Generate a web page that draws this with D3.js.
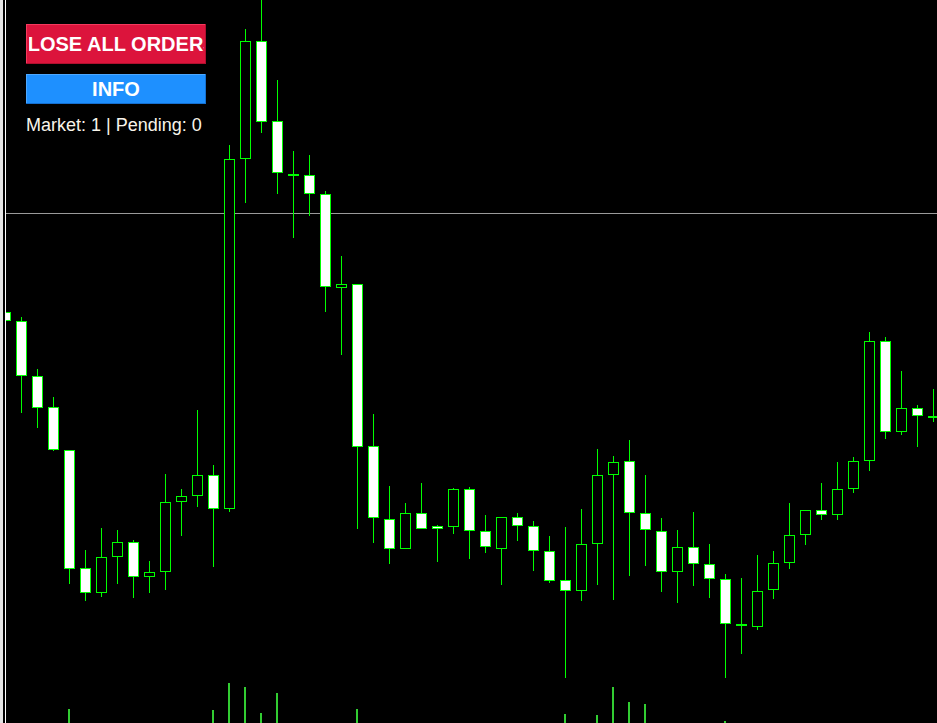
<!DOCTYPE html>
<html><head><meta charset="utf-8">
<script src="https://cdn.jsdelivr.net/npm/d3@7"></script>
<style>html,body{margin:0;padding:0;background:#000;overflow:hidden}svg{display:block}</style>
</head><body><svg id="chart" width="937" height="723"></svg>
<script>
// ---- data (bar index 0 is the oldest, partially hidden at the left edge) ----
const openP  = [1.08288,1.08279,1.08224,1.08193,1.08150,1.08032,1.08007,1.08043,1.08058,1.08023,
                1.08028,1.08098,1.08104,1.08125,1.08091,1.08441,1.08559,1.08479,1.08426,1.08425,
                1.08406,1.08312,1.08316,1.08154,1.08081,1.08051,1.08087,1.08074,1.08073,1.08111,
                1.08069,1.08051,1.08083,1.08074,1.08049,1.08020,1.08009,1.08056,1.08125,1.08139,
                1.08087,1.08069,1.08028,1.08053,1.08036,1.08021,1.07976,1.07973,1.08010,1.08037,
                1.08065,1.08090,1.08085,1.08111,1.08139,1.08259,1.08168,1.08192,1.08184];
const highP  = [1.08291,1.08283,1.08231,1.08203,1.08150,1.08050,1.08072,1.08070,1.08060,1.08039,
                1.08126,1.08111,1.08190,1.08135,1.08455,1.08571,1.08620,1.08520,1.08449,1.08445,
                1.08409,1.08344,1.08316,1.08186,1.08114,1.08097,1.08117,1.08075,1.08112,1.08113,
                1.08085,1.08083,1.08087,1.08079,1.08064,1.08073,1.08091,1.08151,1.08144,1.08160,
                1.08125,1.08082,1.08070,1.08088,1.08056,1.08026,1.08022,1.08045,1.08049,1.08097,
                1.08090,1.08117,1.08138,1.08143,1.08268,1.08263,1.08229,1.08195,1.08211];
const lowP   = [1.08275,1.08187,1.08172,1.08149,1.08016,1.07999,1.08003,1.08016,1.08002,1.08007,
                1.08010,1.08064,1.08093,1.08033,1.08088,1.08397,1.08467,1.08406,1.08362,1.08384,
                1.08288,1.08245,1.08071,1.08057,1.08036,1.08051,1.08071,1.08038,1.08066,1.08041,
                1.08047,1.08015,1.08059,1.08029,1.08017,1.07922,1.07999,1.08015,1.08000,1.08024,
                1.08034,1.08008,1.07997,1.08014,1.08002,1.07922,1.07946,1.07970,1.08001,1.08031,
                1.08055,1.08080,1.08080,1.08107,1.08129,1.08161,1.08165,1.08153,1.08178];
const closeP = [1.08279,1.08224,1.08192,1.08150,1.08031,1.08007,1.08043,1.08058,1.08023,1.08028,
                1.08098,1.08104,1.08125,1.08091,1.08441,1.08559,1.08478,1.08427,1.08426,1.08406,
                1.08313,1.08316,1.08153,1.08082,1.08051,1.08087,1.08071,1.08071,1.08111,1.08069,
                1.08053,1.08083,1.08074,1.08049,1.08019,1.08009,1.08056,1.08125,1.08138,1.08087,
                1.08070,1.08028,1.08053,1.08036,1.08021,1.07976,1.07974,1.08009,1.08037,1.08065,
                1.08090,1.08085,1.08111,1.08139,1.08259,1.08168,1.08192,1.08184,1.08184];
const volumes = [300,260,310,280,540,350,330,290,320,250,
                 360,220,340,530,800,760,500,700,380,300,
                 370,320,540,390,340,300,280,230,310,290,
                 260,330,240,300,320,490,370,480,760,610,
                 590,350,330,300,310,420,380,340,300,310,
                 260,240,300,330,390,380,330,250,200];
const hLevels = [1.08387];
const buttonLabels = ["CLOSE ALL ORDERS", "INFO"];
const statusText = "Market: 1 | Pending: 0";

// ---- scales ----
const W = 937, H = 723;
const n = openP.length;
const x = d3.scaleLinear().domain([0, n - 1]).range([5, 5 + 16 * (n - 1)]);
const y = d3.scaleLinear().domain([1.08600, 1.07877]).range([0, H]);
const yv = d3.scaleLinear().domain([0, 1000]).range([763, 663]);

const svg = d3.select("#chart");
svg.append("rect").attr("width", W).attr("height", H).attr("fill", "#000");

const defs = svg.append("defs");
defs.append("clipPath").attr("id", "plot").append("rect")
  .attr("x", 6).attr("y", 0).attr("width", W - 6).attr("height", H);
defs.append("clipPath").attr("id", "btn0").append("rect")
  .attr("x", 29).attr("y", 24).attr("width", 175).attr("height", 40);

const data = d3.range(n).map(i => ({i, o: openP[i], h: highP[i], l: lowP[i], c: closeP[i], v: volumes[i]}));

const plot = svg.append("g").attr("clip-path", "url(#plot)");

// volume bars (subwindow extends below the visible area)
plot.append("g").selectAll("rect").data(data).join("rect")
  .attr("x", d => Math.round(x(d.i)) - 1)
  .attr("y", d => yv(d.v))
  .attr("width", 2)
  .attr("height", d => Math.max(0, H + 40 - yv(d.v)))
  .attr("fill", "#32CD32");

// horizontal level
plot.append("g").selectAll("line").data(hLevels).join("line")
  .attr("x1", 6).attr("x2", W)
  .attr("y1", d => Math.round(y(d)) + 0.5).attr("y2", d => Math.round(y(d)) + 0.5)
  .attr("stroke", "#9a9a9a").attr("stroke-width", 1);

// wicks
plot.append("g").selectAll("line").data(data).join("line")
  .attr("x1", d => Math.round(x(d.i)) + 0.5).attr("x2", d => Math.round(x(d.i)) + 0.5)
  .attr("y1", d => Math.round(y(d.h))).attr("y2", d => Math.round(y(d.l)))
  .attr("stroke", "#00FF00").attr("stroke-width", 1);

// bodies
plot.append("g").selectAll("rect").data(data).join("rect")
  .attr("x", d => Math.round(x(d.i)) - 4.5)
  .attr("width", 10)
  .attr("y", d => Math.round(Math.min(y(d.o), y(d.c))) + 0.5)
  .attr("height", d => Math.max(1, Math.round(Math.max(y(d.o), y(d.c))) - Math.round(Math.min(y(d.o), y(d.c))) - 1))
  .attr("fill", d => d.c < d.o ? "#FFFFFF" : "#000000")
  .attr("stroke", "#00FF00").attr("stroke-width", 1);

// left border of the window
svg.append("rect").attr("x", 0).attr("y", 0).attr("width", 3).attr("height", H).attr("fill", "#e4e4e4");
svg.append("rect").attr("x", 5).attr("y", 0).attr("width", 1).attr("height", H).attr("fill", "#ffffff");

// buttons
function button(x0, y0, w, h, fill, light, dark) {
  svg.append("rect").attr("x", x0).attr("y", y0).attr("width", w).attr("height", h).attr("fill", fill);
  svg.append("rect").attr("x", x0).attr("y", y0).attr("width", w).attr("height", 1).attr("fill", light);
  svg.append("rect").attr("x", x0).attr("y", y0).attr("width", 1).attr("height", h).attr("fill", light);
  svg.append("rect").attr("x", x0).attr("y", y0 + h - 1).attr("width", w).attr("height", 1).attr("fill", dark);
  svg.append("rect").attr("x", x0 + w - 1).attr("y", y0).attr("width", 1).attr("height", h).attr("fill", dark);
}
button(26, 24, 180, 40, "#DC143C", "#F53A5E", "#B0102F");
button(26, 74, 180, 30, "#1E90FF", "#4DA8FF", "#1570D0");

svg.append("text").attr("clip-path", "url(#btn0)")
  .attr("x", 115).attr("y", 51).attr("text-anchor", "middle")
  .attr("font-family", "Liberation Sans, Arial, sans-serif").attr("font-weight", "bold")
  .attr("font-size", 20).attr("fill", "#fff").text(buttonLabels[0]);
svg.append("text")
  .attr("x", 116).attr("y", 96).attr("text-anchor", "middle")
  .attr("font-family", "Liberation Sans, Arial, sans-serif").attr("font-weight", "bold")
  .attr("font-size", 20).attr("fill", "#fff").text(buttonLabels[1]);
svg.append("text")
  .attr("x", 26).attr("y", 131)
  .attr("font-family", "Liberation Sans, Arial, sans-serif")
  .attr("font-size", 18).attr("fill", "#F8F4EA").text(statusText);
</script>
</body></html>
